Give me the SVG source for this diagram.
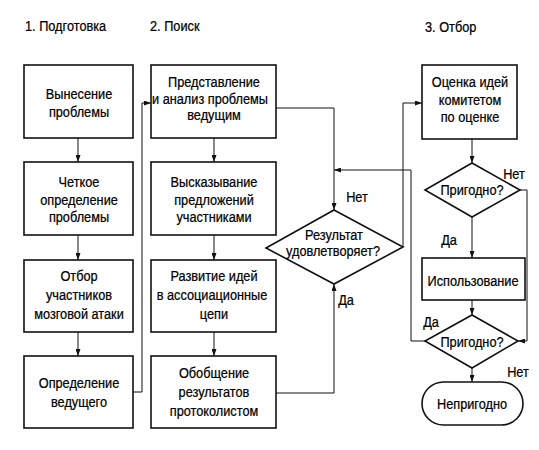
<svg xmlns="http://www.w3.org/2000/svg" width="539" height="450" viewBox="0 0 539 450">
<defs>
<style>
text{font-family:"Liberation Sans",Arial,sans-serif;font-size:15px;fill:#000;stroke:#000;stroke-width:0.25;text-anchor:middle}
.t{text-anchor:start}
.box{fill:#fff;stroke:#111;stroke-width:1.6}
.ar{fill:none;stroke:#111;stroke-width:1;marker-end:url(#ah)}
</style>
<marker id="ah" viewBox="0 0 7 5" refX="7" refY="2.5" markerWidth="7" markerHeight="5" markerUnits="userSpaceOnUse" orient="auto">
<path d="M0,0 L7,2.5 L0,5 Z" fill="#111"/>
</marker>
</defs>
<rect width="539" height="450" fill="#fff"/>
<g id="titles">
<text class="t" transform="translate(25,31) scale(0.85,1)">1. Подготовка</text>
<text class="t" transform="translate(150,31) scale(0.85,1)">2. Поиск</text>
<text class="t" transform="translate(425,32) scale(0.85,1)">3. Отбор</text>
</g>
<g id="connectors">
<path class="ar" d="M78,138 V162"/>
<path class="ar" d="M78,235 V260"/>
<path class="ar" d="M78,332 V356"/>
<path class="ar" d="M133,392 H142 V103 H151"/>
<path class="ar" d="M214,138 V162"/>
<path class="ar" d="M214,235 V260"/>
<path class="ar" d="M214,332 V356"/>
<path class="ar" d="M276,108 H334 V210"/>
<path class="ar" d="M276,393 H334 V284"/>
<path class="ar" d="M403,247 V103 H422"/>
<path class="ar" d="M425,341 H411 V170 H334"/>
<path class="ar" d="M472,139 V163"/>
<path class="ar" d="M472,217 V258"/>
<path class="ar" d="M520,190 H527 V341 H518"/>
<path class="ar" d="M472,300 V315"/>
<path class="ar" d="M472,368 V382"/>
<text transform="translate(357,202) scale(0.85,1)">Нет</text>
<text transform="translate(346,305) scale(0.85,1)">Да</text>
<text transform="translate(514,179) scale(0.85,1)">Нет</text>
<text transform="translate(449,245) scale(0.85,1)">Да</text>
<text transform="translate(431,327) scale(0.85,1)">Да</text>
<text transform="translate(518,377) scale(0.85,1)">Нет</text>
</g>
<g id="n1"><rect class="box" x="24" y="65" width="109" height="73"/>
<text transform="translate(79,99) scale(0.85,1)">Вынесение</text>
<text transform="translate(79,117) scale(0.85,1)">проблемы</text></g>
<g id="n2"><rect class="box" x="24" y="162" width="109" height="73"/>
<text transform="translate(79,187) scale(0.85,1)">Четкое</text>
<text transform="translate(79,204.5) scale(0.85,1)">определение</text>
<text transform="translate(79,222) scale(0.85,1)">проблемы</text></g>
<g id="n3"><rect class="box" x="24" y="260" width="109" height="72"/>
<text transform="translate(79,281) scale(0.85,1)">Отбор</text>
<text transform="translate(79,300) scale(0.85,1)">участников</text>
<text transform="translate(79,319) scale(0.85,1)">мозговой атаки</text></g>
<g id="n4"><rect class="box" x="24" y="356" width="109" height="72"/>
<text transform="translate(79,388) scale(0.85,1)">Определение</text>
<text transform="translate(79,407) scale(0.85,1)">ведущего</text></g>
<g id="n5"><rect class="box" x="151" y="65" width="125" height="73"/>
<text transform="translate(214,87) scale(0.85,1)">Представление</text>
<text transform="translate(210,103.5) scale(0.85,1)">и анализ проблемы</text>
<text transform="translate(214,120) scale(0.85,1)">ведущим</text></g>
<g id="n6"><rect class="box" x="151" y="162" width="125" height="73"/>
<text transform="translate(214,187) scale(0.85,1)">Высказывание</text>
<text transform="translate(214,204.5) scale(0.85,1)">предложений</text>
<text transform="translate(214,222) scale(0.85,1)">участниками</text></g>
<g id="n7"><rect class="box" x="151" y="260" width="125" height="72"/>
<text transform="translate(214,281) scale(0.85,1)">Развитие идей</text>
<text transform="translate(212,300) scale(0.85,1)">в ассоциационные</text>
<text transform="translate(214,319) scale(0.85,1)">цепи</text></g>
<g id="n8"><rect class="box" x="151" y="356" width="125" height="72"/>
<text transform="translate(214,378) scale(0.85,1)">Обобщение</text>
<text transform="translate(214,397) scale(0.85,1)">результатов</text>
<text transform="translate(214,416) scale(0.85,1)">протоколистом</text></g>
<g id="d1"><path class="box" d="M334,210 L403,247 L334,284 L266,248 Z"/>
<text transform="translate(334,240) scale(0.85,1)">Результат</text>
<text transform="translate(333,256) scale(0.85,1)">удовлетворяет?</text></g>
<g id="n9"><rect class="box" x="422" y="65" width="95" height="74"/>
<text transform="translate(470,87) scale(0.85,1)">Оценка идей</text>
<text transform="translate(470,104.5) scale(0.85,1)">комитетом</text>
<text transform="translate(470,122) scale(0.85,1)">по оценке</text></g>
<g id="d2"><path class="box" d="M472,163 L520,190 L472,217 L425,190 Z"/>
<text transform="translate(472,195) scale(0.85,1)">Пригодно?</text></g>
<g id="n10"><rect class="box" x="422" y="258" width="103" height="42"/>
<text transform="translate(473,286) scale(0.85,1)">Использование</text></g>
<g id="d3"><path class="box" d="M472,315 L518,341 L472,368 L425,341 Z"/>
<text transform="translate(472,347) scale(0.85,1)">Пригодно?</text></g>
<g id="n11"><rect class="box" x="422" y="382" width="101" height="43" rx="21.5"/>
<text transform="translate(472,409) scale(0.85,1)">Непригодно</text></g>
</svg>
